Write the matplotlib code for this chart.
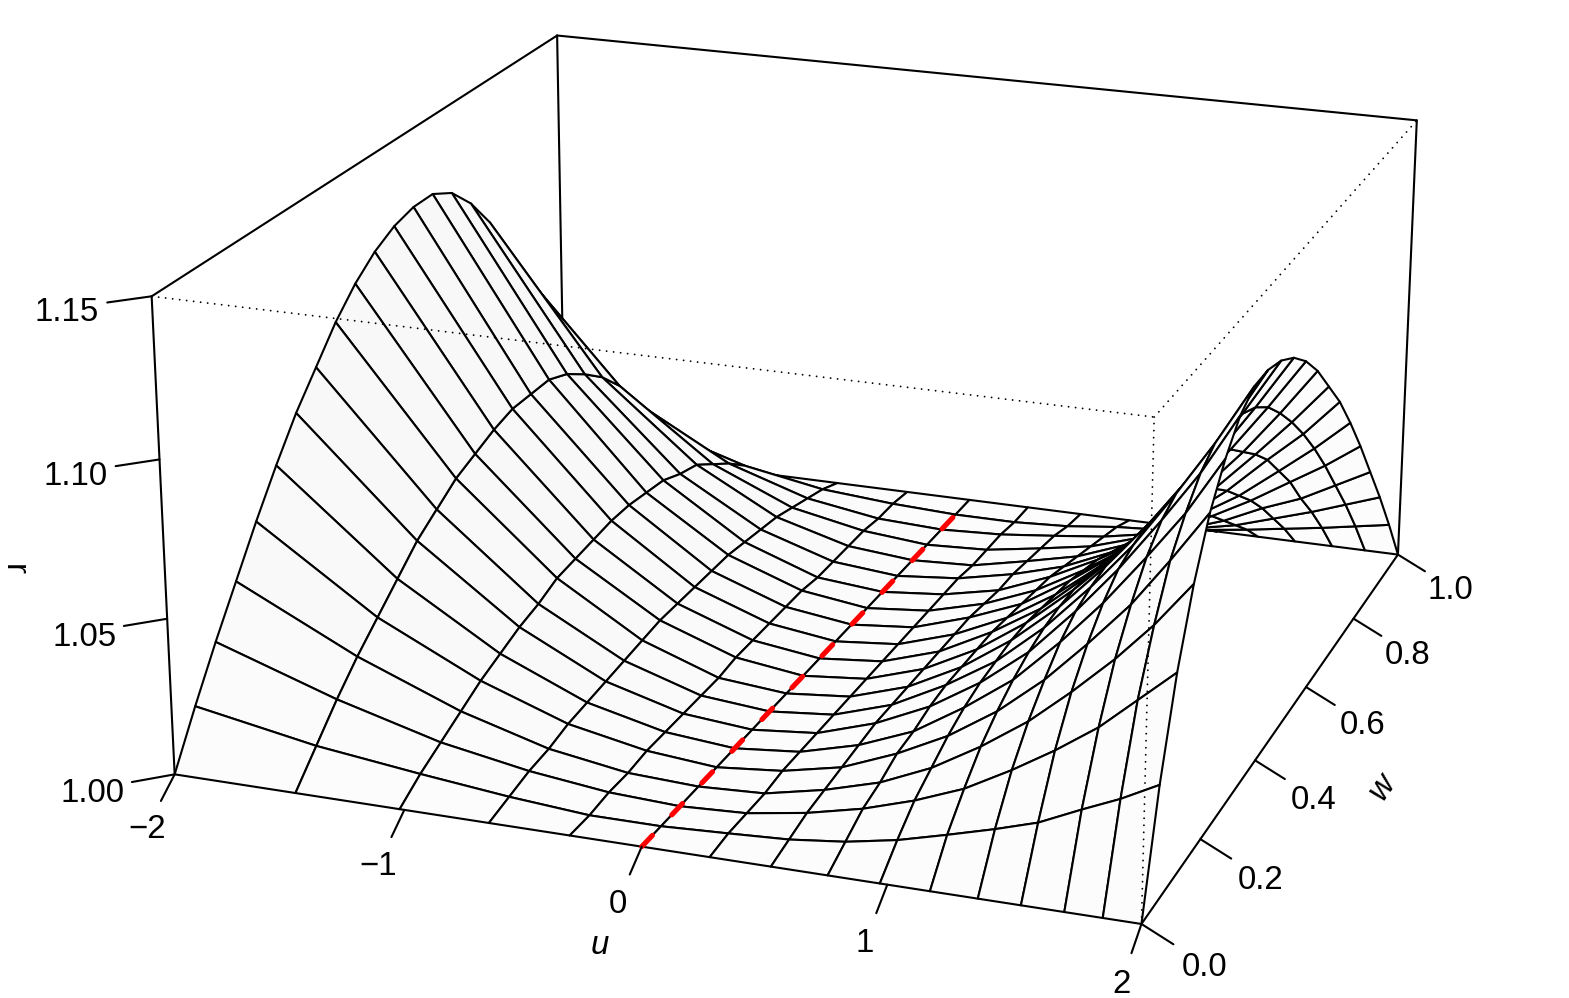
import numpy as np
import matplotlib
matplotlib.use('Agg')
import matplotlib.pyplot as plt
from mpl_toolkits.mplot3d import proj3d

plt.rcParams['font.family'] = ['Liberation Sans', 'DejaVu Sans']

u_grid = [-2, -1.47, -1.02, -0.64, -0.30, 0, 0.28, 0.53, 0.76, 0.97, 1.17, 1.36, 1.53, 1.70, 1.85, 2]
w_grid = [0, 0.05, 0.10, 0.15, 0.20, 0.25, 0.30, 0.35, 0.40, 0.45, 0.50,
          0.55, 0.60, 0.65, 0.70, 0.75, 0.80, 0.85, 0.90, 0.95, 1]

# one row per u value, one column per w value
r_m200 = [1.000, 1.016, 1.031, 1.045, 1.059, 1.072, 1.084, 1.094, 1.104, 1.112, 1.118, 1.122, 1.124, 1.124, 1.120, 1.112, 1.101, 1.085, 1.064, 1.036, 1.000]
r_m147 = [1.000, 1.009, 1.018, 1.026, 1.033, 1.040, 1.047, 1.052, 1.057, 1.060, 1.063, 1.065, 1.065, 1.065, 1.062, 1.057, 1.051, 1.043, 1.032, 1.018, 1.000]
r_m102 = [1.000, 1.005, 1.009, 1.013, 1.017, 1.020, 1.023, 1.025, 1.028, 1.029, 1.030, 1.031, 1.031, 1.030, 1.029, 1.026, 1.024, 1.019, 1.014, 1.008, 1.000]
r_m064 = [1.000, 1.002, 1.004, 1.005, 1.007, 1.008, 1.009, 1.010, 1.011, 1.012, 1.012, 1.012, 1.012, 1.012, 1.011, 1.010, 1.009, 1.007, 1.005, 1.003, 1.000]
r_m030 = [1.000, 1.000, 1.001, 1.001, 1.002, 1.002, 1.002, 1.002, 1.002, 1.003, 1.003, 1.003, 1.003, 1.003, 1.002, 1.002, 1.002, 1.002, 1.001, 1.001, 1.000]
r_000 = [1.000] * 21
r_028 = [1.000, 1.001, 1.001, 1.001, 1.002, 1.002, 1.002, 1.002, 1.002, 1.002, 1.002, 1.002, 1.002, 1.002, 1.002, 1.002, 1.001, 1.001, 1.001, 1.000, 1.000]
r_053 = [1.000, 1.002, 1.004, 1.005, 1.006, 1.007, 1.008, 1.008, 1.008, 1.008, 1.008, 1.008, 1.008, 1.007, 1.006, 1.006, 1.005, 1.004, 1.003, 1.001, 1.000]
r_076 = [1.000, 1.004, 1.008, 1.010, 1.013, 1.014, 1.016, 1.017, 1.017, 1.017, 1.017, 1.016, 1.015, 1.014, 1.013, 1.011, 1.009, 1.007, 1.005, 1.003, 1.000]
r_097 = [1.000, 1.007, 1.013, 1.017, 1.021, 1.024, 1.026, 1.027, 1.028, 1.028, 1.027, 1.026, 1.025, 1.023, 1.021, 1.018, 1.015, 1.012, 1.008, 1.004, 1.000]
r_117 = [1.000, 1.011, 1.019, 1.026, 1.031, 1.035, 1.038, 1.040, 1.041, 1.041, 1.040, 1.038, 1.036, 1.033, 1.030, 1.026, 1.022, 1.017, 1.012, 1.006, 1.000]
r_136 = [1.000, 1.015, 1.027, 1.036, 1.043, 1.049, 1.053, 1.055, 1.056, 1.055, 1.054, 1.052, 1.049, 1.044, 1.040, 1.035, 1.029, 1.022, 1.015, 1.008, 1.000]
r_153 = [1.000, 1.019, 1.035, 1.047, 1.056, 1.063, 1.068, 1.070, 1.071, 1.070, 1.069, 1.066, 1.061, 1.056, 1.050, 1.043, 1.036, 1.028, 1.019, 1.010, 1.000]
r_170 = [1.000, 1.025, 1.044, 1.059, 1.070, 1.079, 1.085, 1.088, 1.088, 1.087, 1.085, 1.081, 1.075, 1.069, 1.062, 1.053, 1.044, 1.033, 1.023, 1.012, 1.000]
r_185 = [1.000, 1.030, 1.054, 1.071, 1.085, 1.094, 1.101, 1.105, 1.105, 1.104, 1.101, 1.096, 1.089, 1.081, 1.072, 1.062, 1.051, 1.039, 1.027, 1.014, 1.000]
r_200 = [1.000, 1.036, 1.064, 1.085, 1.101, 1.112, 1.120, 1.124, 1.124, 1.122, 1.118, 1.112, 1.104, 1.094, 1.084, 1.072, 1.059, 1.045, 1.031, 1.016, 1.000]

u_ticks = [-2, -1, 0, 1, 2]
u_labels = ['\u22122', '\u22121', '0', '1', '2']
w_ticks = [0.0, 0.2, 0.4, 0.6, 0.8, 1.0]
w_labels = ['0.0', '0.2', '0.4', '0.6', '0.8', '1.0']
r_ticks = [1.00, 1.05, 1.10, 1.15]
r_labels = ['1.00', '1.05', '1.10', '1.15']

r = np.array([r_m200, r_m147, r_m102, r_m064, r_m030, r_000, r_028, r_053,
              r_076, r_097, r_117, r_136, r_153, r_170, r_185, r_200])
U, W = np.meshgrid(u_grid, w_grid, indexing='ij')

# slightly darker facets where the surface falls towards +u
slope = np.diff(r, axis=0)[:, :-1] / 0.15 / (np.diff(u_grid)[:, None] / 4)
nx = np.clip(-slope / np.sqrt(1 + slope ** 2), 0, 1)
grey = 0.989 - 0.017 * nx
facets = np.dstack([grey, grey, grey, np.ones_like(grey)])

W_PX, H_PX = 1569, 998
SIZE = 1410.16
fig = plt.figure(figsize=(W_PX / 100, H_PX / 100), dpi=100)
ax = fig.add_axes([95.55 / W_PX, (H_PX - 1158.88) / H_PX, SIZE / W_PX, SIZE / H_PX],
                  projection='3d', computed_zorder=False)
ax.set_xlim(-2, 2)
ax.set_ylim(0, 1)
ax.set_zlim(1, 1.15)
ax.view_init(19.977, -70.064, -0.030)
ax.set_proj_type('persp', focal_length=0.6483)
ax.set_box_aspect((1.99824, 2.00272, 1))
ax.set_xticks([])
ax.set_yticks([])
ax.set_zticks([])
ax.set_axis_off()
ax.patch.set_alpha(0)

LW = 1.5
black = dict(color='black', lw=LW, solid_capstyle='round', clip_on=False)
dots = dict(color='black', lw=1.35, linestyle=(0, (0.01, 3.75)), dash_capstyle='round', clip_on=False, zorder=4)

# back of the box, under the surface
ax.plot([-2, -2], [0, 1], [1.15, 1.15], zorder=1, **black)
ax.plot([-2, 2], [1, 1], [1.15, 1.15], zorder=1, **black)
ax.plot([2, 2], [1, 1], [1, 1.15], zorder=1, **black)
ax.plot([-2, -2], [1, 1], [1, 1.15], zorder=1, **black)
ax.plot([-2, -2], [0, 0], [1, 1.15], zorder=1, **black)
ax.plot([2, 2], [0, 1], [1, 1], zorder=1, **black)

surf = ax.plot_surface(U, W, r, rstride=1, cstride=1, facecolors=facets, shade=False,
                       linewidth=LW, zorder=2)
surf.set_edgecolor('black')

# front of the box, dotted on top
ax.plot([-2, 2], [0, 0], [1.15, 1.15], **dots)
ax.plot([2, 2], [0, 0], [1, 1.15], **dots)
ax.plot([2, 2], [0, 1], [1.15, 1.15], **dots)

ax.plot(np.zeros(len(w_grid)), w_grid, r[5], color='red', lw=3.7,
        linestyle=(0, (3.03, 5.48)), dash_capstyle='round', zorder=3, clip_on=False)

FS = 23.8
M = ax.get_proj()


def label(x, y, z, s, **kw):
    # Text3D ignores rotation, so place plain text at the projected point
    px, py, _ = proj3d.proj_transform(x, y, z, M)
    ax.text2D(px, py, s, transform=ax.transData, fontsize=FS, ha='center', va='center', **kw)


# ticks leave the box along two directions at once
DU, DW, DR = 0.125, 0.03125, 0.0047
for t, s in zip(u_ticks, u_labels):
    ax.plot([t, t], [0, -DW], [1, 1 - DR], zorder=3, **black)
    label(t, -2 * DW, 1 - 2 * DR - 0.0005, s)
for t, s in zip(w_ticks, w_labels):
    ax.plot([2, 2 + DU], [t, t], [1, 1 - DR], zorder=3, **black)
    label(2 + 2 * DU - 0.005, t, 1 - 2 * DR - 0.0009, s)
for t, s in zip(r_ticks, r_labels):
    ax.plot([-2, -2 - DU], [0, -DW], [t, t], zorder=3, **black)
    label(-2 - 1.87 * DU, -2 * DW, t - 0.0011, s)

label(0.008, -3.6 * DW, 1 - 3.6 * DR + 0.001, 'u', style='italic')
label(2.43, 0.5, 1 - 3.4 * DR - 0.0006, 'w', style='italic', rotation=55)
label(-2.415, -3.6 * DW, 1.074, 'r', rotation=-90)

fig.savefig('out.png', dpi=100)
